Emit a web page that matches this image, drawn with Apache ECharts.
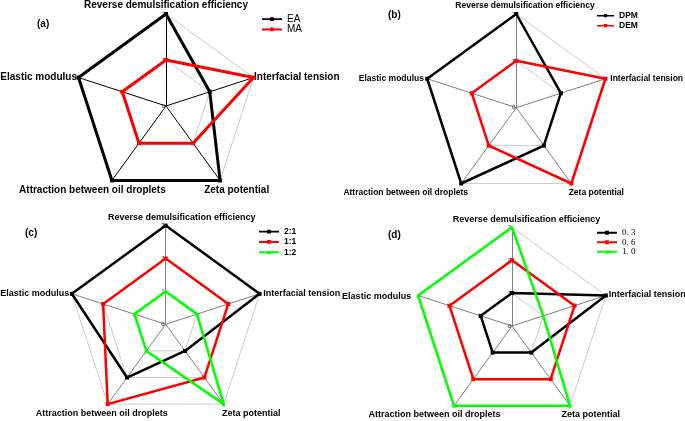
<!DOCTYPE html>
<html>
<head>
<meta charset="utf-8">
<script src="https://cdn.jsdelivr.net/npm/echarts@6.0.0/dist/echarts.min.js"></script>
<style>html,body{margin:0;padding:0;background:#fff}#c{width:685px;height:421px}</style>
</head>
<body>
<div id="c"></div>
<script>
// Indicator order follows ECharts radar (counter-clockwise from the top)
const indicators = ['Reverse demulsification efficiency', 'Elastic modulus', 'Attraction between oil droplets', 'Zeta potential', 'Interfacial tension'];
const tickLabelsAB = ['0', '1', '2'];
const tickLabelsCD = ['0', '1', '2', '3'];

// (a)
const namesA = ['EA', 'MA'];
const valuesEA = [2, 2, 2, 2, 1];
const valuesMA = [1, 1, 1, 1, 2];
// (b)
const namesB = ['DPM', 'DEM'];
const valuesDPM = [2, 2, 2, 1, 1];
const valuesDEM = [1, 1, 1, 2, 2];
// (c)
const namesC = ['2:1', '1:1', '1:2'];
const values21 = [3, 3, 2, 1, 3];
const values11 = [2, 2, 3, 2, 2];
const values12 = [1, 1, 1, 3, 1];
// (d)
const namesD = ['0. 3', '0. 6', '1. 0'];
const values03 = [1, 1, 1, 1, 3];
const values06 = [2, 2, 2, 2, 2];
const values10 = [3, 3, 3, 3, 1];

const BLACK = '#000000', RED = '#ff0000', GREEN = '#00ff00';
const iconSquare = 'path://M0,2 H21 V4 H0 Z M8.5,1 H12.5 V5 H8.5 Z';
const iconTri = 'path://M0,2 H21 V4 H0 Z M8.5,5 L10.5,1 L12.5,5 Z';

const panels = [
  {label: '(a)', labelPos: [37, 19], center: [166, 106], radius: 92, max: 2, ticks: tickLabelsAB, axisColor: '#000000',
   fontSize: 10, lineWidth: 3,
   names: namesA, values: [valuesEA, valuesMA], colors: [BLACK, RED],
   legend: {left: 262, top: 14, itemWidth: 20, rowH: 10.3, font: {fontFamily: 'Liberation Sans', fontSize: 10, fontWeight: 'normal'}},
   nameOff: [[0, -8.7, 'center'], [-1.5, -0.5, 'right'], [-19.5, 9.6, 'center'], [16.6, 10.3, 'center'], [0.5, -0.5, 'left']]},
  {label: '(b)', labelPos: [388, 10], center: [516.3, 107.7], radius: 93.7, max: 2, ticks: tickLabelsAB, axisColor: '#808080',
   fontSize: 8.5, lineWidth: 2.5,
   names: namesB, values: [valuesDPM, valuesDEM], colors: [BLACK, RED],
   legend: {left: 597, top: 10.7, itemWidth: 17, rowH: 10, font: {fontFamily: 'Liberation Sans', fontSize: 8.5, fontWeight: 'bold'}},
   nameOff: [[8.7, -8, 'center'], [-3.2, 0.3, 'right'], [-55.5, 9.2, 'center'], [24.9, 9.2, 'center'], [4.9, 0.3, 'left']]},
  {label: '(c)', labelPos: [25, 228], center: [165.7, 324.3], radius: 98.7, max: 3, ticks: tickLabelsCD, axisColor: '#808080',
   fontSize: 9, lineWidth: 2.5,
   names: namesC, values: [values21, values11, values12], colors: [BLACK, RED, GREEN],
   legend: {left: 259, top: 226.5, itemWidth: 20, rowH: 10.3, font: {fontFamily: 'Liberation Sans', fontSize: 8.5, fontWeight: 'bold'}},
   nameOff: [[16, -8.3, 'center'], [-2.5, -0.5, 'right'], [-6, 9.8, 'center'], [27.6, 9.8, 'center'], [3.7, 0.2, 'left']]},
  {label: '(d)', labelPos: [388, 230], center: [512, 326], radius: 98.7, max: 3, ticks: tickLabelsCD, axisColor: '#808080',
   fontSize: 9, lineWidth: 2.5,
   names: namesD, values: [values03, values06, values10], colors: [BLACK, RED, GREEN],
   legend: {left: 597, top: 228, itemWidth: 20, rowH: 9.5, font: {fontFamily: 'Liberation Serif', fontSize: 9, fontWeight: 'normal'}},
   nameOff: [[14.5, -8, 'center'], [-7, 1.2, 'right'], [-19.5, 8.2, 'center'], [20.7, 8.2, 'center'], [2.8, -0.5, 'left']]}
];

const radar = [], series = [], legend = [], title = [], graphic = [];
panels.forEach(function (p, k) {
  radar.push({
    center: p.center, radius: p.radius, startAngle: 90, shape: 'polygon', splitNumber: p.max,
    indicator: indicators.map(function (n, i) {
      const ind = {name: n, min: 0, max: p.max};
      if (i === 0) ind.axisLabel = {show: true};
      return ind;
    }),
    axisName: {show: false},
    axisLine: {lineStyle: {color: p.axisColor, width: 1}},
    splitLine: {lineStyle: {color: '#cccccc', width: 1}},
    splitArea: {show: false},
    axisTick: {show: false},
    axisLabel: {show: false, fontSize: 6, color: '#333', margin: 1, fontFamily: 'Liberation Sans',
      formatter: function (v) { return p.ticks[Math.round(v)] || ''; }}
  });
  series.push({
    type: 'radar', radarIndex: k, silent: true,
    data: p.names.map(function (n, j) {
      return {
        name: n, value: p.values[j],
        symbol: p.colors[j] === GREEN ? 'triangle' : 'rect', symbolSize: 4,
        lineStyle: {color: p.colors[j], width: p.lineWidth},
        itemStyle: {color: p.colors[j]}
      };
    })
  });
  legend.push({
    orient: 'vertical', left: p.legend.left, top: p.legend.top, padding: 0, itemGap: 0,
    itemWidth: p.legend.itemWidth, itemHeight: 4, selectedMode: false,
    textStyle: Object.assign({color: '#000', lineHeight: p.legend.rowH}, p.legend.font),
    data: p.names.map(function (n, j) {
      return {name: n, icon: p.colors[j] === GREEN ? iconTri : iconSquare, itemStyle: {color: p.colors[j]}};
    })
  });
  title.push({
    text: p.label, left: p.labelPos[0], top: p.labelPos[1], padding: 0,
    textStyle: {fontFamily: 'Liberation Sans', fontWeight: 'bold', fontSize: 10, color: '#000'}
  });
  indicators.forEach(function (n, i) {
    const th = (90 + 72 * i) * Math.PI / 180;
    const vx = p.center[0] + p.radius * Math.cos(th);
    const vy = p.center[1] - p.radius * Math.sin(th);
    const off = p.nameOff[i];
    graphic.push({
      type: 'text', x: vx + off[0], y: vy + off[1], silent: true,
      style: {
        text: n, fill: '#000', fontFamily: 'Liberation Sans', fontWeight: 'bold', fontSize: p.fontSize,
        align: off[2], verticalAlign: 'middle', textAlign: off[2], textVerticalAlign: 'middle'
      }
    });
  });
});

const chart = echarts.init(document.getElementById('c'), null, {renderer: 'canvas'});
chart.setOption({
  backgroundColor: '#ffffff',
  animation: false,
  title: title,
  legend: legend,
  radar: radar,
  series: series,
  graphic: graphic
});
</script>
</body>
</html>
